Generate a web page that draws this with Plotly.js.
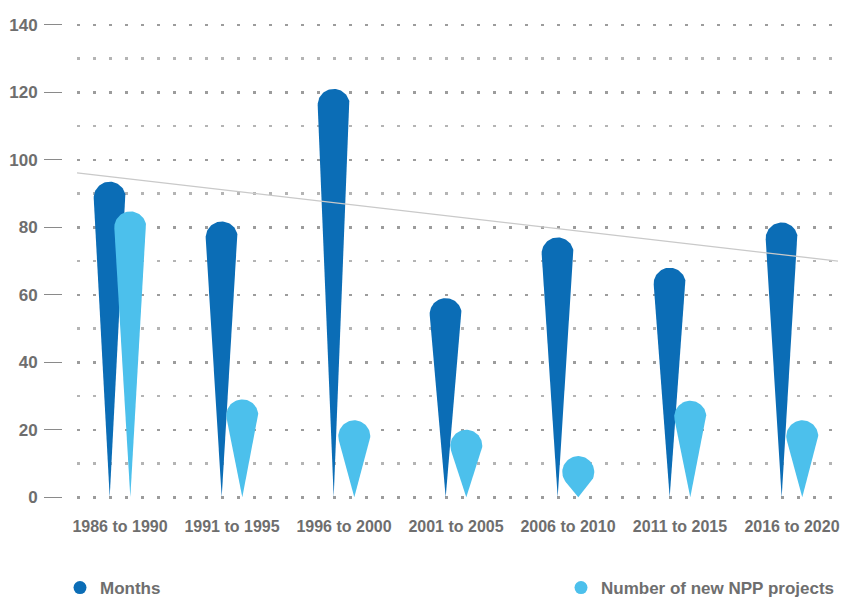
<!DOCTYPE html>
<html>
<head>
<meta charset="utf-8">
<script src="https://cdn.plot.ly/plotly-3.0.1.min.js"></script>
<style>
  html, body { margin: 0; padding: 0; background: #ffffff; }
  #chart { width: 843px; height: 597px; }
</style>
</head>
<body>
<div id="chart"></div>
<script>
// Five-year periods and the two series plotted for each
const periods = ['1986 to 1990', '1991 to 1995', '1996 to 2000', '2001 to 2005',
                 '2006 to 2010', '2011 to 2015', '2016 to 2020'];
const months = [93.5, 81.7, 121, 59, 77, 68, 81.4];
const nppProjects = [84.7, 29, 22.8, 20, 12.2, 28.6, 22.8];
const yTickValues = [0, 20, 40, 60, 80, 100, 120, 140];

const seriesNames = ['Months', 'Number of new NPP projects'];
const seriesColors = ['#0b6db6', '#4cc0ec'];

// Page geometry
const W = 843, H = 597;
const M = { l: 0, r: 5, t: 18, b: 93, autoexpand: false };
const plotW = W - M.l - M.r;
const plotH = H - M.t - M.b;
const xDomain = [77 / plotW, 1];
const xRange = [-0.384, 6.411];
const yRange = [-2, 142];
const xPx = plotW * (xDomain[1] - xDomain[0]) / (xRange[1] - xRange[0]);
const yPx = plotH / (yRange[1] - yRange[0]);

const DROP_RADIUS = 16;   // px, radius of the rounded head
const PAIR_OFFSET = 0.092; // category units each side of the period centre

// Teardrop outline: point at zero, round head whose top sits at the value
function dropOutline(cx, value) {
  const r = DROP_RADIUS;
  const d = value * yPx - r;               // tip to head centre, px
  const a = Math.asin(Math.min(1, r / d)); // tangent half angle
  const xs = [cx], ys = [0];
  const n = 48;
  for (let i = 0; i <= n; i++) {
    const t = -a + (Math.PI + 2 * a) * i / n;
    xs.push(cx + r * Math.cos(t) / xPx);
    ys.push((d + r * Math.sin(t)) / yPx);
  }
  xs.push(cx); ys.push(0);
  return { xs, ys };
}

const traces = [];
[months, nppProjects].forEach((values, s) => {
  values.forEach((v, i) => {
    const cx = i + (s === 0 ? -PAIR_OFFSET : PAIR_OFFSET);
    const o = dropOutline(cx, v);
    traces.push({
      type: 'scatter', mode: 'lines', x: o.xs, y: o.ys,
      fill: 'toself', fillcolor: seriesColors[s],
      line: { width: 0, color: seriesColors[s] },
      hoverinfo: 'text', text: periods[i] + ': ' + v,
      showlegend: false
    });
  });
});

// Least-squares trend of the Months series
const n = months.length;
const mx = (n - 1) / 2;
const my = months.reduce((a, b) => a + b, 0) / n;
let sxy = 0, sxx = 0;
months.forEach((v, i) => { sxy += (i - mx) * (v - my); sxx += (i - mx) * (i - mx); });
const slope = sxy / sxx;
const trendX = [xRange[0], xRange[1]];
traces.push({
  type: 'scatter', mode: 'lines',
  x: trendX, y: trendX.map(x => my + slope * (x - mx)),
  line: { color: '#c9c9c9', width: 1.3 },
  hoverinfo: 'skip', showlegend: false
});

// Legend entries (round markers)
seriesNames.forEach((name, s) => {
  traces.push({
    type: 'scatter', mode: 'markers', x: [null], y: [null],
    name: name, marker: { color: seriesColors[s], size: 13 },
    legend: s === 0 ? 'legend' : 'legend2', showlegend: true
  });
});

const FONT = '"Liberation Sans", Arial, sans-serif';
const TEXT = '#6e6e6e';
const dots = '2.5px,13.5px';

const layout = {
  width: W, height: H,
  margin: M,
  paper_bgcolor: '#ffffff', plot_bgcolor: '#ffffff',
  font: { family: FONT, color: TEXT },
  showlegend: true,
  xaxis: {
    domain: xDomain, range: xRange,
    tickmode: 'array', tickvals: periods.map((_, i) => i), ticktext: periods,
    showgrid: false, zeroline: false, showline: false, ticks: '',
    ticklabelstandoff: 11, tickangle: 0, ticklabeloverflow: 'allow',
    tickfont: { family: FONT, size: 16, color: TEXT, weight: 'bold' }
  },
  yaxis: {
    range: yRange, anchor: 'free', position: 62 / plotW,
    tickmode: 'array', tickvals: yTickValues,
    ticks: 'outside', ticklen: 18, tickwidth: 1.4, tickcolor: '#8a8a8a',
    ticklabelstandoff: 3,
    tickfont: { family: FONT, size: 17, color: TEXT, weight: 'bold' },
    showgrid: true, gridcolor: '#9c9c9c', gridwidth: 2.5, griddash: dots,
    minor: { dtick: 10, tick0: 0, showgrid: true, gridcolor: '#b4b4b4', gridwidth: 2.5, griddash: dots },
    zeroline: false, showline: false
  },
  legend: {
    x: 60 / plotW, xanchor: 'left', y: -84 / plotH, yanchor: 'middle',
    orientation: 'h', bgcolor: 'rgba(0,0,0,0)',
    font: { family: FONT, size: 17, color: TEXT, weight: 'bold' }
  },
  legend2: {
    x: 561 / plotW, xanchor: 'left', y: -84 / plotH, yanchor: 'middle',
    orientation: 'h', bgcolor: 'rgba(0,0,0,0)',
    font: { family: FONT, size: 17, color: TEXT, weight: 'bold' }
  }
};

Plotly.newPlot('chart', traces, layout, { displayModeBar: false, staticPlot: true });
</script>
</body>
</html>
